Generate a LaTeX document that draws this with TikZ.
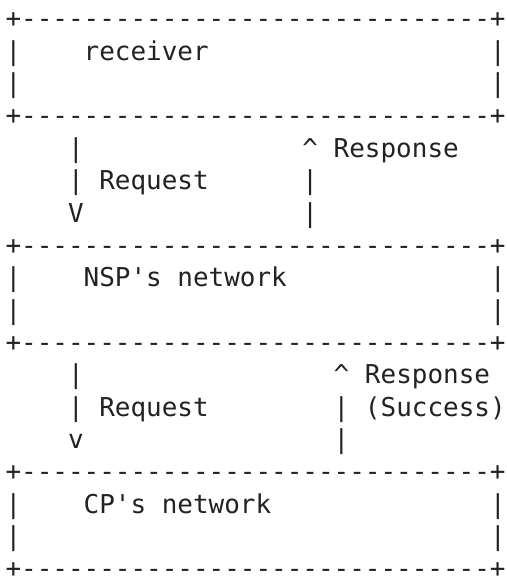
\documentclass[tikz,border=0pt]{standalone}
\usepackage{fontspec}
\newfontfamily\asciifont{DejaVu Sans Mono}
\definecolor{ink}{RGB}{34,34,34}
\newcommand\chw{15.63}
\newcommand\lnh{32.35}
\newcommand\seg[4]{\node[asciitext] (#1) at ({5.5+#2*\chw},{27.9+#3*\lnh}) {#4};}
\newcommand\boxline{+------------------------------+}
\tikzset{asciitext/.style={inner sep=0pt, outer sep=0pt, anchor=base west, text=ink,
  font=\asciifont\fontsize{25.96}{30}\selectfont}}
\begin{document}
\begin{tikzpicture}[x=1pt,y=-1pt]
\useasboundingbox (0,0) rectangle (506,577);
% receiver box
\seg{b1top}{0}{0}{\boxline}
\seg{b1l1}{0}{1}{|}
\seg{b1name}{5}{1}{receiver}
\seg{b1r1}{31}{1}{|}
\seg{b1l2}{0}{2}{|}
\seg{b1r2}{31}{2}{|}
\seg{b1bot}{0}{3}{\boxline}
% first arrows
\seg{rq1a}{4}{4}{|}
\seg{rs1tip}{19}{4}{\textasciicircum}
\seg{rs1lab}{21}{4}{Response}
\seg{rq1b}{4}{5}{|}
\seg{rq1lab}{6}{5}{Request}
\seg{rs1a}{19}{5}{|}
\seg{rq1tip}{4}{6}{V}
\seg{rs1b}{19}{6}{|}
% NSP box
\seg{b2top}{0}{7}{\boxline}
\seg{b2l1}{0}{8}{|}
\seg{b2name}{5}{8}{NSP's network}
\seg{b2r1}{31}{8}{|}
\seg{b2l2}{0}{9}{|}
\seg{b2r2}{31}{9}{|}
\seg{b2bot}{0}{10}{\boxline}
% second arrows
\seg{rq2a}{4}{11}{|}
\seg{rs2tip}{21}{11}{\textasciicircum}
\seg{rs2lab}{23}{11}{Response}
\seg{rq2b}{4}{12}{|}
\seg{rq2lab}{6}{12}{Request}
\seg{rs2a}{21}{12}{|}
\seg{rs2lab2}{23}{12}{(Success)}
\seg{rq2tip}{4}{13}{v}
\seg{rs2b}{21}{13}{|}
% CP box
\seg{b3top}{0}{14}{\boxline}
\seg{b3l1}{0}{15}{|}
\seg{b3name}{5}{15}{CP's network}
\seg{b3r1}{31}{15}{|}
\seg{b3l2}{0}{16}{|}
\seg{b3r2}{31}{16}{|}
\seg{b3bot}{0}{17}{\boxline}
\end{tikzpicture}
\end{document}
